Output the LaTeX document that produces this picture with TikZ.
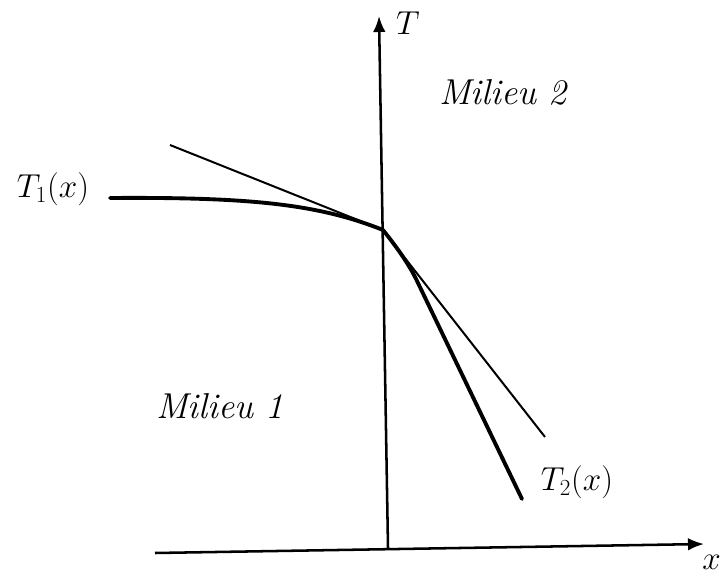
\documentclass[tikz,border=0pt]{standalone}
\usetikzlibrary{arrows.meta}
\begin{document}
\begin{tikzpicture}[x=0.75pt,y=-0.75pt,
  axis/.style={line width=1.9pt,-{Latex[length=12pt,width=9.5pt]}},
  thick curve/.style={line width=2.9pt,line cap=round,line join=round},
  tangent/.style={line width=1.5pt},
  lbl/.style={inner sep=0pt,font=\fontsize{27}{32}\selectfont}]
\useasboundingbox (0,0) rectangle (721,577);
\fill[white] (0,0) rectangle (721,577);
% points
\coordinate (O) at (383,230);
\coordinate (vb) at (388,548);
\coordinate (vt) at (379,16);
\coordinate (hl) at (155,553);
\coordinate (hr) at (704,544);
\coordinate (t1s) at (110,198);
\coordinate (t2m) at (418,283);
\coordinate (t2e) at (522,499);
\coordinate (tl) at (170,145);
\coordinate (tr) at (545,437);
% axes
\draw[axis] (vb) -- (vt);
\draw[axis] (hl) -- (hr);
% tangents
\draw[tangent] (tl) -- (O);
\draw[tangent] (O) -- (tr);
% curves
\draw[thick curve] (t1s) .. controls (250,197) and (318,204) .. (O);
\draw[thick curve] (O) .. controls (399,250) and (410,266) .. (t2m) -- (t2e);
% labels
\node[lbl] (T) at (408,23) {$T$};
\node[lbl,anchor=east] (X) at (721,562) {$x$};
\node[lbl] (T1) at (53,189) {$T_1(x)$};
\node[lbl] (T2) at (577,482) {$T_2(x)$};
\node[lbl] (M2) at (503,92) {\itshape Milieu 2};
\node[lbl] (M1) at (220,406) {\itshape Milieu 1};
\end{tikzpicture}
\end{document}
